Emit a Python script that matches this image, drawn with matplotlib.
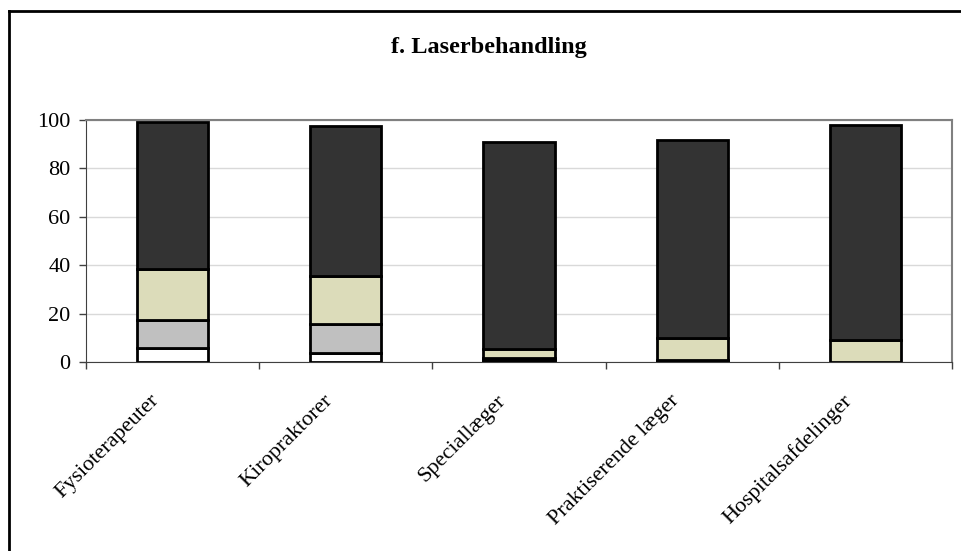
import matplotlib.pyplot as plt
import matplotlib.transforms as mtransforms
from matplotlib.lines import Line2D
import numpy as np

categories = ["Fysioterapeuter", "Kiropraktorer", "Speciallæger",
              "Praktiserende læger", "Hospitalsafdelinger"]
# stacked segments, bottom to top
seg_white = [5.8, 3.6, 0.8, 0.3, 0.0]
seg_grey = [11.6, 12.1, 0.9, 0.5, 0.0]
seg_beige = [21.0, 19.8, 3.8, 9.0, 9.1]
seg_dark = [60.8, 62.0, 85.5, 81.9, 88.7]
yticks = [0, 20, 40, 60, 80, 100]

plt.rcParams['font.family'] = ['Liberation Serif', 'DejaVu Serif']

fig = plt.figure(figsize=(9.62, 5.51), dpi=100)
ax = fig.add_axes([86 / 962, 1 - 362 / 551, 866 / 962, 242 / 551])

x = np.arange(len(categories))
width = 0.41
bottom = np.zeros(len(categories))
for vals, col in [(seg_white, 'white'), (seg_grey, '#C0C0C0'),
                  (seg_beige, '#DCDCBA'), (seg_dark, '#333333')]:
    ax.bar(x, vals, width, bottom=bottom, color=col, edgecolor='black',
           linewidth=2, zorder=3)
    bottom += np.array(vals)

ax.set_xlim(-0.5, len(categories) - 0.5)
ax.set_ylim(0, 100)
ax.set_yticks(yticks)
ax.tick_params(axis='y', labelsize=16, length=5, width=1, color='#404040', pad=6)
ax.grid(axis='y', color='#D9D9D9', linewidth=1, zorder=0)

ax.set_xticks(np.arange(len(categories) + 1) - 0.5)
ax.set_xticklabels([])
ax.tick_params(axis='x', length=5, width=1, color='#404040')
ax.set_xticks(x, minor=True)
ax.set_xticklabels(categories, minor=True, rotation=45, ha='right',
                   va='center', rotation_mode='anchor', fontsize=16)
ax.tick_params(axis='x', which='minor', length=0, pad=26)
offset = mtransforms.ScaledTranslation(-16 / 100, 0, fig.dpi_scale_trans)
for lbl in ax.get_xticklabels(minor=True):
    lbl.set_transform(lbl.get_transform() + offset)

for side in ['left', 'bottom']:
    ax.spines[side].set_color('#404040')
for side in ['top', 'right']:
    ax.spines[side].set_color('#808080')
    ax.spines[side].set_linewidth(1.5)

fig.text(489 / 962, 1 - 48 / 551, "f. Laserbehandling", ha='center',
         va='center', fontsize=17.5, fontweight='bold')

# outer chart frame (left and top edges only visible)
fig.add_artist(Line2D([9 / 962, 9 / 962], [0, 1 - 11 / 551], color='black',
                      linewidth=2, transform=fig.transFigure))
fig.add_artist(Line2D([9 / 962, 1], [1 - 11 / 551, 1 - 11 / 551],
                      color='black', linewidth=2, transform=fig.transFigure))

fig.savefig("out.png", dpi=100)
